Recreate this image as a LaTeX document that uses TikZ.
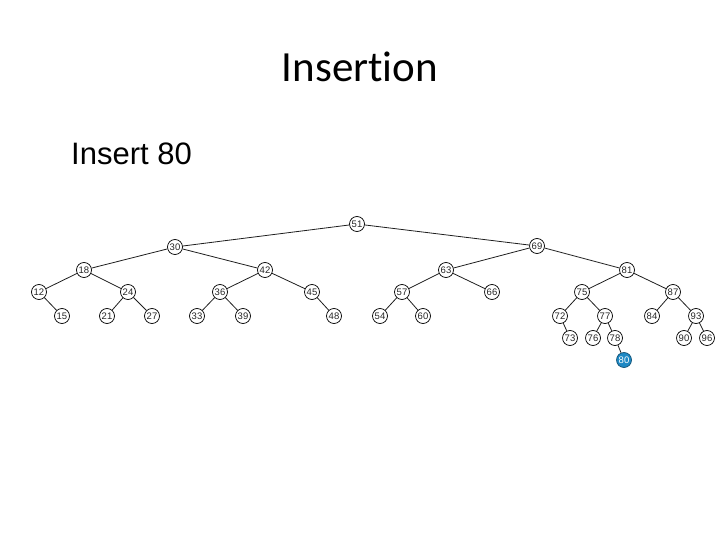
\documentclass[tikz,border=0pt]{standalone}
\usepackage{fontspec}
\setmainfont{Liberation Sans}
\newfontfamily\titlefont[Ligatures={NoCommon,NoRare,NoContextual}]{Carlito}
\definecolor{nodeblue}{RGB}{30,136,196}
\definecolor{edgegray}{RGB}{30,30,30}
\begin{document}
\begin{tikzpicture}[x=1pt,y=-1pt,
  tn/.style={circle,draw=black,line width=0.7pt,fill=white,minimum size=15pt,inner sep=0pt,font=\fontsize{9.5}{9.5}\selectfont,text=black!85},
  hn/.style={tn,fill=nodeblue,draw=nodeblue!60!black,text=white},
  ed/.style={draw=edgegray,line width=0.8pt}]
\useasboundingbox (0,0) rectangle (720,540);
\node[font=\titlefont\fontsize{43}{43}\selectfont,anchor=base] (title) at (360,82) {Insertion};
\node[font=\fontsize{31}{31}\selectfont,anchor=base west,inner sep=0pt] (ins) at (71,165) {Insert 80};
% level 0-1
\node[tn] (n51) at (357,224) {51};
\node[tn] (n30) at (175,247) {30};
\node[tn] (n69) at (537,246) {69};
% level 2
\node[tn] (n18) at (84,270) {18};
\node[tn] (n42) at (265,270) {42};
\node[tn] (n63) at (446,270) {63};
\node[tn] (n81) at (627,270) {81};
% level 3
\node[tn] (n12) at (39,292) {12};
\node[tn] (n24) at (128,292) {24};
\node[tn] (n36) at (220,292) {36};
\node[tn] (n45) at (312,292) {45};
\node[tn] (n57) at (402,292) {57};
\node[tn] (n66) at (492,292) {66};
\node[tn] (n75) at (582,292) {75};
\node[tn] (n87) at (673,292) {87};
% level 4
\node[tn] (n15) at (62,316) {15};
\node[tn] (n21) at (107,316) {21};
\node[tn] (n27) at (152,316) {27};
\node[tn] (n33) at (197,316) {33};
\node[tn] (n39) at (243,316) {39};
\node[tn] (n48) at (334,316) {48};
\node[tn] (n54) at (380,316) {54};
\node[tn] (n60) at (423,316) {60};
\node[tn] (n72) at (560,316) {72};
\node[tn] (n77) at (605,316) {77};
\node[tn] (n84) at (652,316) {84};
\node[tn] (n93) at (696,316) {93};
% level 5
\node[tn] (n73) at (570,338) {73};
\node[tn] (n76) at (593,338) {76};
\node[tn] (n78) at (615,338) {78};
\node[tn] (n90) at (684,338) {90};
\node[tn] (n96) at (707,338) {96};
% level 6
\node[hn] (n80) at (624,360) {80};
\foreach \a/\b in {51/30,51/69,30/18,30/42,18/12,18/24,12/15,24/21,24/27,42/36,42/45,36/33,36/39,45/48,69/63,69/81,63/57,63/66,57/54,57/60,81/75,81/87,75/72,75/77,72/73,77/76,77/78,78/80,87/84,87/93,93/90,93/96}
  \draw[ed] (n\a) -- (n\b);
\end{tikzpicture}
\end{document}
